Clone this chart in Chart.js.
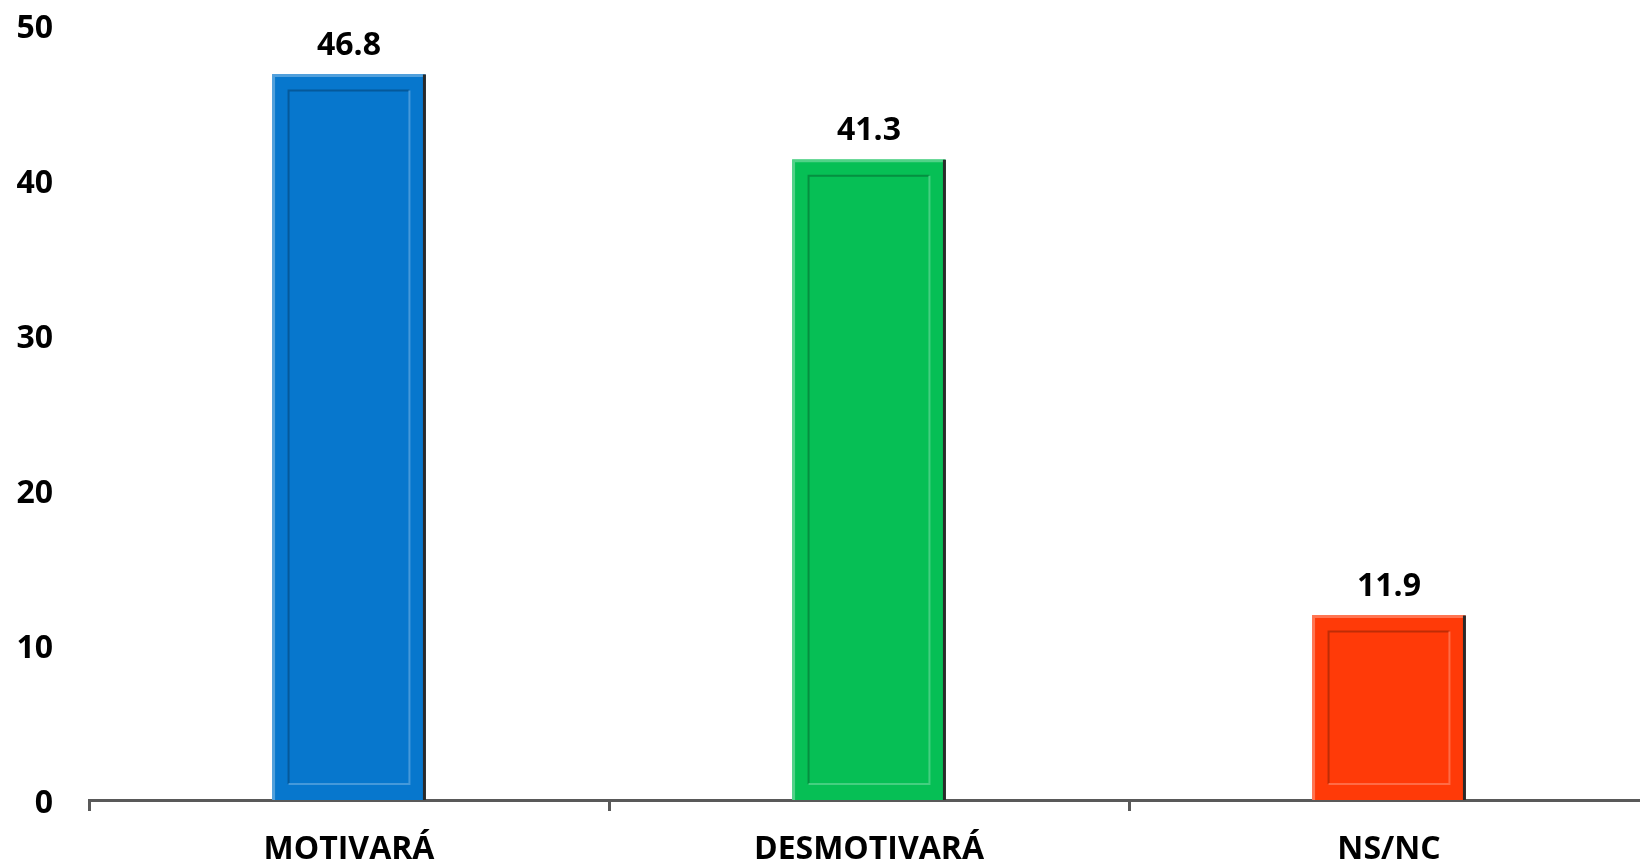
<!DOCTYPE html>
<html>
<head>
<meta charset="utf-8">
<script src="https://cdn.jsdelivr.net/npm/chart.js@4.4.1/dist/chart.umd.min.js"></script>
<style>
  html, body { margin: 0; padding: 0; background: #ffffff; overflow: hidden; }
  /* chart runs slightly past the right edge, as in the original */
  #wrap { width: 1649px; height: 863px; position: relative; }
</style>
</head>
<body>
<div id="wrap"><canvas id="barChart"></canvas></div>
<script>
// Chart data
const categories = ['MOTIVARÁ', 'DESMOTIVARÁ', 'NS/NC'];
const values = [46.8, 41.3, 11.9];
const barColors = ['#0777CD', '#06BF55', '#FF3A08'];
const yTicks = [0, 10, 20, 30, 40, 50];

const fontFamily = "'Open Sans', Lato, sans-serif";

// Shade a hex colour by a factor (negative = darker)
function shade(hex, f) {
    const n = parseInt(hex.slice(1), 16);
    let r = (n >> 16) & 255, g = (n >> 8) & 255, b = n & 255;
    const t = f < 0 ? 0 : 255;
    const p = Math.abs(f);
    r = Math.round((t - r) * p + r);
    g = Math.round((t - g) * p + g);
    b = Math.round((t - b) * p + b);
    return `rgb(${r},${g},${b})`;
}

// Bevel effect drawn on top of each bar
const bevelPlugin = {
    id: 'bevel',
    afterDatasetsDraw(chart) {
        const ctx = chart.ctx;
        const meta = chart.getDatasetMeta(0);
        meta.data.forEach((bar, i) => {
            const base = barColors[i];
            const left = bar.x - bar.width / 2;
            const right = bar.x + bar.width / 2;
            const top = bar.y;
            const bottom = bar.base;
            const inset = 16;
            ctx.save();
            // outer edges
            ctx.lineWidth = 3;
            ctx.strokeStyle = shade(base, 0.3);
            ctx.beginPath();
            ctx.moveTo(left + 1, bottom);
            ctx.lineTo(left + 1, top + 1);
            ctx.lineTo(right, top + 1);
            ctx.stroke();
            ctx.strokeStyle = '#2a2a2a';
            ctx.beginPath();
            ctx.moveTo(right - 1, top);
            ctx.lineTo(right - 1, bottom);
            ctx.stroke();
            // inner panel
            ctx.lineWidth = 2;
            ctx.strokeStyle = shade(base, -0.25);
            ctx.beginPath();
            ctx.moveTo(left + inset, bottom - inset);
            ctx.lineTo(left + inset, top + inset);
            ctx.lineTo(right - inset, top + inset);
            ctx.stroke();
            ctx.strokeStyle = shade(base, 0.25);
            ctx.beginPath();
            ctx.moveTo(right - inset, top + inset);
            ctx.lineTo(right - inset, bottom - inset);
            ctx.lineTo(left + inset, bottom - inset);
            ctx.stroke();
            ctx.restore();
        });
    }
};

// Value labels above each bar
const valueLabelPlugin = {
    id: 'valueLabels',
    afterDatasetsDraw(chart) {
        const ctx = chart.ctx;
        const meta = chart.getDatasetMeta(0);
        ctx.save();
        ctx.font = `bold 32px ${fontFamily}`;
        ctx.fillStyle = '#000000';
        ctx.textAlign = 'center';
        ctx.textBaseline = 'middle';
        meta.data.forEach((bar, i) => {
            ctx.fillText(values[i].toFixed(1), bar.x, bar.y - 29);
        });
        ctx.restore();
    }
};

const ctx = document.getElementById('barChart').getContext('2d');
new Chart(ctx, {
    type: 'bar',
    data: {
        labels: categories,
        datasets: [{
            data: values,
            backgroundColor: barColors,
            borderWidth: 0,
            barPercentage: 0.6,
            categoryPercentage: 0.49
        }]
    },
    options: {
        responsive: true,
        maintainAspectRatio: false,
        animation: false,
        layout: {
            padding: { top: 25, right: 0, bottom: 0, left: 16 }
        },
        scales: {
            y: {
                min: 0,
                max: 50,
                afterBuildTicks: axis => {
                    axis.ticks = yTicks.map(v => ({ value: v }));
                },
                afterFit: axis => {
                    axis.width = 73;
                    axis.paddingTop = 0;
                    axis.paddingBottom = 0;
                },
                border: { display: false },
                grid: { display: false, drawTicks: false },
                ticks: {
                    padding: 36,
                    labelOffset: 4,
                    color: '#000000',
                    font: { family: fontFamily, size: 32, weight: 'bold' }
                }
            },
            x: {
                afterFit: axis => {
                    axis.height = 63;
                    axis.paddingLeft = 0;
                    axis.paddingRight = 0;
                },
                border: { display: true, color: '#595959', width: 3 },
                grid: {
                    offset: true,
                    drawOnChartArea: false,
                    drawTicks: true,
                    tickLength: 11,
                    color: '#595959',
                    lineWidth: 3
                },
                ticks: {
                    padding: 20,
                    color: '#000000',
                    font: { family: fontFamily, size: 32, weight: 'bold' }
                }
            }
        },
        plugins: {
            legend: { display: false },
            tooltip: { enabled: false }
        }
    },
    plugins: [bevelPlugin, valueLabelPlugin]
});
</script>
</body>
</html>
